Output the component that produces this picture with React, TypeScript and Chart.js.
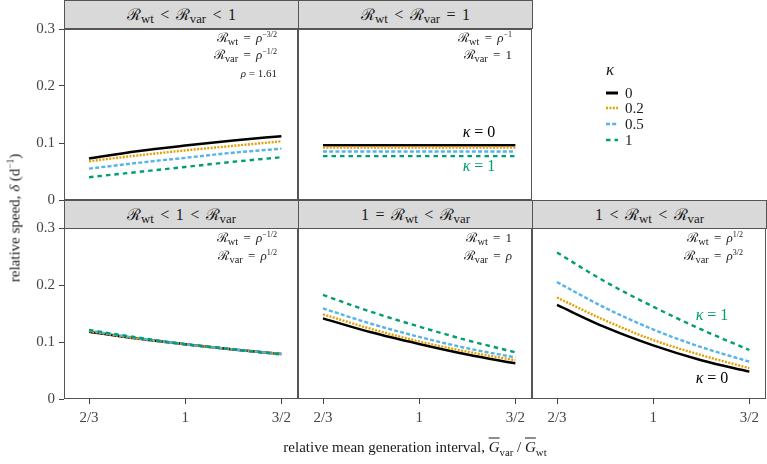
import React, { useEffect, useRef } from "react";
import { Chart, registerables } from "chart.js";

Chart.register(...registerables);

// ---------- data ----------
const X_VALUES = [0.6667, 0.8165, 1, 1.2247, 1.5];
const X_TICKS = [0.6667, 1, 1.5];
const X_TICK_LABELS = ["2/3", "1", "3/2"];
const X_MIN = 0.6215;
const X_MAX = 1.609;
const Y_TICKS = [0, 0.1, 0.2, 0.3];
const Y_TICK_LABELS = ["0", "0.1", "0.2", "0.3"];
const KAPPA_LABELS = ["0", "0.2", "0.5", "1"];

// panel A: Rwt < Rvar < 1
const A_K0 = [0.073, 0.0855, 0.0955, 0.1045, 0.112];
const A_K02 = [0.068, 0.078, 0.087, 0.095, 0.103];
const A_K05 = [0.055, 0.065, 0.074, 0.083, 0.09];
const A_K1 = [0.04, 0.049, 0.058, 0.067, 0.075];
// panel B: Rwt < Rvar = 1
const B_K0 = [0.096, 0.096, 0.096, 0.096, 0.096];
const B_K02 = [0.092, 0.092, 0.092, 0.092, 0.092];
const B_K05 = [0.085, 0.085, 0.085, 0.085, 0.085];
const B_K1 = [0.077, 0.077, 0.077, 0.077, 0.077];
// panel C: Rwt < 1 < Rvar
const C_K0 = [0.118, 0.106, 0.096, 0.087, 0.079];
const C_K02 = [0.119, 0.106, 0.096, 0.087, 0.079];
const C_K05 = [0.12, 0.107, 0.096, 0.087, 0.079];
const C_K1 = [0.121, 0.108, 0.096, 0.087, 0.078];
// panel D: 1 = Rwt < Rvar
const D_K0 = [0.1415, 0.117, 0.0965, 0.078, 0.0626];
const D_K02 = [0.1485, 0.123, 0.101, 0.083, 0.068];
const D_K05 = [0.159, 0.132, 0.109, 0.089, 0.073];
const D_K1 = [0.1825, 0.153, 0.127, 0.103, 0.082];
// panel E: 1 < Rwt < Rvar
const E_K0 = [0.165, 0.126, 0.094, 0.068, 0.048];
const E_K02 = [0.178, 0.138, 0.1035, 0.077, 0.054];
const E_K05 = [0.205, 0.16, 0.122, 0.091, 0.0655];
const E_K1 = [0.257, 0.206, 0.162, 0.122, 0.086];

// ---------- styles ----------
const SERIES_COLORS = ["#000000", "#E69F00", "#56B4E9", "#009E73"];
const SERIES_DASH: number[][] = [[], [2, 1.4], [4, 2.2], [4.5, 4]];
const SERIES_WIDTH = [2.5, 2.4, 2.4, 2.4];
const SERIF = "'Liberation Serif', 'Times New Roman', serif";
const W = 767;
const H = 464;
const Y_AXIS_W = 64;
const X_AXIS_H = 30;
const BORDER = "#555555";

type Panel = {
  left: number; right: number; top: number; bottom: number;
  showX: boolean; showY: boolean; series: number[][];
};

const PANELS: Panel[] = [
  { left: 64, right: 298, top: 29, bottom: 200, showX: false, showY: true, series: [A_K0, A_K02, A_K05, A_K1] },
  { left: 298, right: 532, top: 29, bottom: 200, showX: false, showY: false, series: [B_K0, B_K02, B_K05, B_K1] },
  { left: 64, right: 298, top: 228, bottom: 399, showX: true, showY: true, series: [C_K0, C_K02, C_K05, C_K1] },
  { left: 298, right: 532, top: 228, bottom: 399, showX: true, showY: false, series: [D_K0, D_K02, D_K05, D_K1] },
  { left: 532, right: 766, top: 228, bottom: 399, showX: true, showY: false, series: [E_K0, E_K02, E_K05, E_K1] },
];

const panelBorder = {
  id: "panelBorder",
  afterDraw(chart: any) {
    const { ctx, chartArea } = chart;
    const { left, top, right, bottom } = chartArea;
    ctx.save();
    ctx.strokeStyle = BORDER;
    ctx.lineWidth = 1;
    ctx.strokeRect(left + 0.5, top + 0.5, right - left - 1, bottom - top - 1);
    ctx.restore();
  },
};

function buildConfig(p: Panel): any {
  const tickFont = { family: SERIF, size: 15 };
  return {
    type: "line",
    data: {
      datasets: p.series.map((vals, i) => ({
        label: KAPPA_LABELS[i],
        data: X_VALUES.map((x, j) => ({ x, y: vals[j] })),
        borderColor: SERIES_COLORS[i],
        borderDash: SERIES_DASH[i],
        borderWidth: SERIES_WIDTH[i],
        borderCapStyle: "butt",
        pointRadius: 0,
        fill: false,
        cubicInterpolationMode: "monotone",
        order: p.series.length - 1 - i,
      })),
    },
    options: {
      responsive: false,
      animation: false,
      events: [],
      layout: {
        padding: {
          left: p.showY ? p.left - Y_AXIS_W : p.left,
          right: W - p.right,
          top: p.top,
          bottom: p.showX ? H - p.bottom - X_AXIS_H : H - p.bottom,
        },
      },
      plugins: { legend: { display: false }, tooltip: { enabled: false }, title: { display: false } },
      scales: {
        x: {
          type: "logarithmic",
          min: X_MIN,
          max: X_MAX,
          display: p.showX,
          afterBuildTicks: (s: any) => { s.ticks = X_TICKS.map((v) => ({ value: v })); },
          afterFit: p.showX ? (s: any) => { s.height = X_AXIS_H; } : undefined,
          ticks: {
            autoSkip: false, maxRotation: 0, padding: 5, color: "#444444", font: tickFont,
            callback: (_v: any, i: number) => X_TICK_LABELS[i],
          },
          grid: { drawOnChartArea: false, drawTicks: true, tickLength: 5, tickColor: "#444444", tickWidth: 1 },
          border: { display: false },
        },
        y: {
          type: "linear",
          min: 0,
          max: 0.3,
          display: p.showY,
          afterBuildTicks: (s: any) => { s.ticks = Y_TICKS.map((v) => ({ value: v })); },
          afterFit: p.showY ? (s: any) => { s.width = Y_AXIS_W; } : undefined,
          ticks: {
            autoSkip: false, padding: 4, color: "#444444", font: tickFont,
            callback: (_v: any, i: number) => Y_TICK_LABELS[i],
          },
          grid: { drawOnChartArea: false, drawTicks: true, tickLength: 5, tickColor: "#444444", tickWidth: 1 },
          border: { display: false },
        },
      },
    },
    plugins: [panelBorder],
  };
}

function PanelChart({ panel }: { panel: Panel }) {
  const ref = useRef<HTMLCanvasElement | null>(null);
  useEffect(() => {
    const chart = new Chart(ref.current as HTMLCanvasElement, buildConfig(panel));
    return () => chart.destroy();
  }, [panel]);
  return (
    <canvas
      ref={ref}
      width={W}
      height={H}
      style={{ position: "absolute", left: 0, top: 0, width: W, height: H }}
    />
  );
}

// ---------- math text helpers ----------
function Rs({ s }: { s: string }) {
  return (
    <span>
      ℛ<span style={{ fontSize: "0.8em", position: "relative", top: "0.3em" }}>{s}</span>
    </span>
  );
}
function Rel({ c }: { c: string }) {
  return <span style={{ margin: "0 0.4em" }}>{c}</span>;
}
function Sup({ t }: { t: string }) {
  return <span style={{ fontSize: "0.62em", position: "relative", top: "-0.6em" }}>{t}</span>;
}

const STRIPS = [
  { left: 64, right: 298, top: 0, bottom: 29, content: <><Rs s="wt" /><Rel c="<" /><Rs s="var" /><Rel c="<" />1</> },
  { left: 298, right: 532, top: 0, bottom: 29, content: <><Rs s="wt" /><Rel c="<" /><Rs s="var" /><Rel c="=" />1</> },
  { left: 64, right: 298, top: 200, bottom: 229, content: <><Rs s="wt" /><Rel c="<" />1<Rel c="<" /><Rs s="var" /></> },
  { left: 298, right: 532, top: 200, bottom: 229, content: <>1<Rel c="=" /><Rs s="wt" /><Rel c="<" /><Rs s="var" /></> },
  { left: 532, right: 766, top: 200, bottom: 229, content: <>1<Rel c="<" /><Rs s="wt" /><Rel c="<" /><Rs s="var" /></> },
];

const rho = <span style={{ fontStyle: "italic" }}>ρ</span>;

const NOTES = [
  { x: 277, y: 38, size: 13, content: <><Rs s="wt" /><Rel c="=" />{rho}<Sup t="−3/2" /></> },
  { x: 277, y: 55, size: 13, content: <><Rs s="var" /><Rel c="=" />{rho}<Sup t="−1/2" /></> },
  { x: 277, y: 73, size: 11, content: <>{rho} = 1.61</> },
  { x: 512, y: 38, size: 13, content: <><Rs s="wt" /><Rel c="=" />{rho}<Sup t="−1" /></> },
  { x: 512, y: 55, size: 13, content: <><Rs s="var" /><Rel c="=" />1</> },
  { x: 277, y: 238, size: 13, content: <><Rs s="wt" /><Rel c="=" />{rho}<Sup t="−1/2" /></> },
  { x: 277, y: 256, size: 13, content: <><Rs s="var" /><Rel c="=" />{rho}<Sup t="1/2" /></> },
  { x: 512, y: 238, size: 13, content: <><Rs s="wt" /><Rel c="=" />1</> },
  { x: 512, y: 256, size: 13, content: <><Rs s="var" /><Rel c="=" />{rho}</> },
  { x: 743, y: 238, size: 13, content: <><Rs s="wt" /><Rel c="=" />{rho}<Sup t="1/2" /></> },
  { x: 743, y: 256, size: 13, content: <><Rs s="var" /><Rel c="=" />{rho}<Sup t="3/2" /></> },
];

const kappa = <span style={{ fontStyle: "italic" }}>κ</span>;
const KAPPA_NOTES = [
  { x: 479, y: 132, color: "#000000", content: <>{kappa} = 0</> },
  { x: 479, y: 166, color: "#009E73", content: <>{kappa} = 1</> },
  { x: 712, y: 315, color: "#009E73", content: <>{kappa} = 1</> },
  { x: 712, y: 378, color: "#000000", content: <>{kappa} = 0</> },
];

const LEGEND_ROWS_Y = [92.5, 108.3, 124, 139.5];

function OverG({ s }: { s: string }) {
  return (
    <span>
      <span style={{ fontStyle: "italic", textDecoration: "overline" }}>G</span>
      <span style={{ fontSize: "0.72em", position: "relative", top: "0.35em" }}>{s}</span>
    </span>
  );
}

export default function App() {
  return (
    <div
      style={{
        position: "absolute", left: 0, top: 0, width: W, height: H,
        background: "#ffffff", fontFamily: SERIF, color: "#1a1a1a", overflow: "hidden",
      }}
    >
      {PANELS.map((p, i) => <PanelChart key={i} panel={p} />)}

      {STRIPS.map((s, i) => (
        <div
          key={"s" + i}
          style={{
            position: "absolute", left: s.left, top: s.top, width: s.right - s.left + 1,
            height: s.bottom - s.top, boxSizing: "border-box", background: "#D9D9D9",
            border: `1px solid ${BORDER}`, display: "flex", alignItems: "center",
            justifyContent: "center", fontSize: 16, whiteSpace: "nowrap", color: "#1a1a1a",
          }}
        >
          <span style={{ position: "relative", top: -1 }}>{s.content}</span>
        </div>
      ))}

      {NOTES.map((n, i) => (
        <div
          key={"n" + i}
          style={{
            position: "absolute", right: W - n.x, top: n.y - 10, height: 20, lineHeight: "20px",
            fontSize: n.size, whiteSpace: "nowrap", textAlign: "right", color: "#1a1a1a",
          }}
        >
          {n.content}
        </div>
      ))}

      {KAPPA_NOTES.map((n, i) => (
        <div
          key={"k" + i}
          style={{
            position: "absolute", left: n.x, top: n.y - 10, height: 20, lineHeight: "20px",
            transform: "translateX(-50%)", fontSize: 16, whiteSpace: "nowrap", color: n.color,
          }}
        >
          {n.content}
        </div>
      ))}

      {/* legend */}
      <div style={{ position: "absolute", left: 606, top: 60, height: 20, lineHeight: "20px", fontSize: 17, fontStyle: "italic" }}>κ</div>
      {KAPPA_LABELS.map((lab, i) => (
        <div key={"l" + i} style={{ position: "absolute", left: 605, top: LEGEND_ROWS_Y[i] - 9, height: 18, display: "flex", alignItems: "center" }}>
          <svg width={14} height={6} style={{ display: "block" }}>
            <line
              x1={1} y1={3} x2={13} y2={3}
              stroke={SERIES_COLORS[i]}
              strokeWidth={i === 0 ? 3 : 2.6}
              strokeDasharray={SERIES_DASH[i].length ? SERIES_DASH[i].join(" ") : undefined}
            />
          </svg>
          <span style={{ marginLeft: 6, fontSize: 15, lineHeight: "18px", color: "#1a1a1a" }}>{lab}</span>
        </div>
      ))}

      {/* axis titles */}
      <div
        style={{
          position: "absolute", left: 15, top: 218, transform: "translate(-50%, -50%) rotate(-90deg)",
          fontSize: 15, whiteSpace: "nowrap", color: "#1a1a1a",
        }}
      >
        relative speed, <span style={{ fontStyle: "italic" }}>δ</span> (d<Sup t="−1" />)
      </div>
      <div
        style={{
          position: "absolute", left: 415, top: 447, transform: "translate(-50%, -50%)",
          fontSize: 15, whiteSpace: "nowrap", color: "#1a1a1a",
        }}
      >
        relative mean generation interval, <OverG s="var" /> / <OverG s="wt" />
      </div>
    </div>
  );
}
